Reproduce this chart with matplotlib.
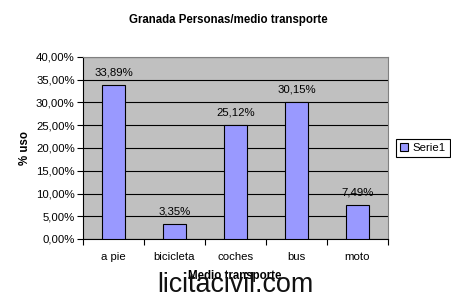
import numpy as np
import matplotlib.pyplot as plt
from matplotlib.ticker import FuncFormatter

categorias = ['a pie', 'bicicleta', 'coches', 'bus', 'moto']
valores = [33.89, 3.35, 25.12, 30.15, 7.49]
etiquetas = ['33,89%', '3,35%', '25,12%', '30,15%', '7,49%']


def main():
    plt.rcParams['font.family'] = ['Liberation Sans', 'DejaVu Sans']
    fig = plt.figure(figsize=(4.52, 3.00), dpi=100)
    ax = fig.add_axes([83 / 452, 1 - 239 / 300, 305 / 452, 182 / 300])
    ax.set_facecolor('#c0c0c0')

    x = np.arange(len(categorias))
    ax.bar(x, valores, width=0.37, color='#9999ff', edgecolor='black',
           linewidth=0.8, zorder=3, label='Serie1')
    for xi, v, t in zip(x, valores, etiquetas):
        ax.annotate(t, (xi, v), xytext=(0, 5.5), textcoords='offset points',
                    ha='center', va='bottom', fontsize=8.2)

    ax.set_xlim(-0.5, len(categorias) - 0.5)
    ax.set_ylim(0, 40)
    ax.set_yticks(np.arange(0, 41, 5))
    ax.yaxis.set_major_formatter(FuncFormatter(lambda v, p: f'{v:.2f}%'.replace('.', ',')))
    ax.grid(axis='y', color='black', linewidth=0.8, zorder=0)
    ax.set_axisbelow(True)

    ax.set_xticks(x)
    ax.set_xticklabels(categorias)
    ax.tick_params(axis='x', length=0, pad=9, labelsize=8.2)
    ax.set_xticks(np.arange(-0.5, len(categorias)), minor=True)
    ax.tick_params(axis='x', which='minor', length=4, width=0.8, direction='out')
    ax.tick_params(axis='y', length=4, width=0.8, direction='out', labelsize=8.2, pad=2)

    for s in ['top', 'right']:
        ax.spines[s].set_color('#808080')
        ax.spines[s].set_linewidth(0.8)
    for s in ['left', 'bottom']:
        ax.spines[s].set_linewidth(0.8)

    fig.text(228 / 452, 1 - 20 / 300, 'Granada Personas/medio transporte',
             ha='center', va='center', fontsize=8.3, fontweight='bold')
    fig.text(25 / 452, 1 - 148 / 300, '% uso', rotation=90,
             ha='center', va='center', fontsize=8.3, fontweight='bold')
    fig.text(235 / 452, 1 - 276 / 300, 'Medio transporte',
             ha='center', va='center', fontsize=8.3, fontweight='bold')

    leg = fig.legend(loc='center', bbox_to_anchor=(423 / 452, 1 - 148 / 300),
                     fontsize=8.2, fancybox=False, edgecolor='black',
                     framealpha=1, handlelength=0.7, handleheight=0.7,
                     handletextpad=0.4, borderpad=0.35)
    leg.get_frame().set_linewidth(0.8)

    fig.text(235 / 452, 1 - 285 / 300, 'licitacivil.com', ha='center',
             va='center', fontsize=19.4, color='#111111')

    fig.savefig('out.png', dpi=100, facecolor='white')


if __name__ == '__main__':
    main()
